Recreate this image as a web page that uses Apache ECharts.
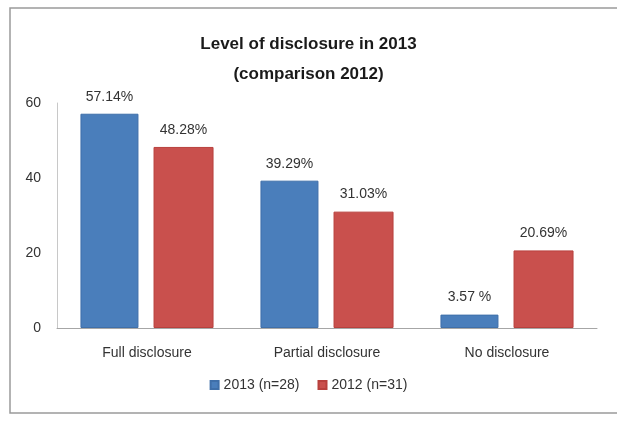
<!DOCTYPE html>
<html>
<head>
<meta charset="utf-8">
<script src="https://cdn.jsdelivr.net/npm/echarts@6/dist/echarts.min.js"></script>
<style>
  html, body { margin: 0; padding: 0; background: #fff; }
  #chart { width: 617px; height: 421px; }
</style>
</head>
<body>
<div id="chart"></div>
<script>
// data
const categories = ['Full disclosure', 'Partial disclosure', 'No disclosure'];
const values2013 = [57.14, 39.29, 3.57];
const values2012 = [48.28, 31.03, 20.69];
const labels2013 = ['57.14%', '39.29%', '3.57 %'];
const labels2012 = ['48.28%', '31.03%', '20.69%'];
const yTicks = [0, 20, 40, 60];

const font = 'Liberation Sans, sans-serif';

let myChart = echarts.init(document.getElementById('chart'));

const option = {
  backgroundColor: '#fff',
  animation: false,
  title: {
    text: 'Level of disclosure in 2013\n(comparison 2012)',
    left: 'center',
    top: 24,
    textStyle: { fontFamily: font, fontSize: 17, fontWeight: 'bold', color: '#1a1a1a', lineHeight: 30 }
  },
  graphic: [{
    type: 'rect',
    shape: { x: 10, y: 8, width: 620, height: 405 },
    style: { fill: 'none', stroke: '#9a9a9a', lineWidth: 1.5 },
    silent: true
  }],
  legend: {
    bottom: 24,
    left: 'center',
    icon: 'rect',
    itemWidth: 8,
    itemHeight: 8,
    itemGap: 18,
    textStyle: { fontFamily: font, fontSize: 14, color: '#333' },
    data: ['2013 (n=28)', '2012 (n=31)']
  },
  grid: { left: 57, right: 20, top: 103, bottom: 93 },
  xAxis: {
    type: 'category',
    data: categories,
    axisLine: { lineStyle: { color: '#a6a6a6' } },
    axisTick: { show: false },
    axisLabel: { fontFamily: font, fontSize: 14, color: '#333', margin: 18 }
  },
  yAxis: {
    type: 'value',
    min: yTicks[0],
    max: yTicks[yTicks.length - 1],
    interval: 20,
    axisLine: { show: true, lineStyle: { color: '#c8c8c8' } },
    axisTick: { show: false },
    splitLine: { show: false },
    axisLabel: { fontFamily: font, fontSize: 14, color: '#333', margin: 16 }
  },
  series: [
    {
      name: '2013 (n=28)',
      type: 'bar',
      barWidth: 58,
      barGap: '26%',
      itemStyle: { color: '#4a7ebb', borderColor: '#3f6fa9', borderWidth: 1 },
      label: {
        show: true, position: 'top', distance: 10,
        fontFamily: font, fontSize: 14, color: '#333',
        formatter: p => labels2013[p.dataIndex]
      },
      data: values2013
    },
    {
      name: '2012 (n=31)',
      type: 'bar',
      barWidth: 60,
      itemStyle: { color: '#c9504d', borderColor: '#b8403d', borderWidth: 1 },
      label: {
        show: true, position: 'top', distance: 10,
        fontFamily: font, fontSize: 14, color: '#333',
        formatter: p => labels2012[p.dataIndex]
      },
      data: values2012
    }
  ]
};

myChart.setOption(option);
</script>
</body>
</html>
